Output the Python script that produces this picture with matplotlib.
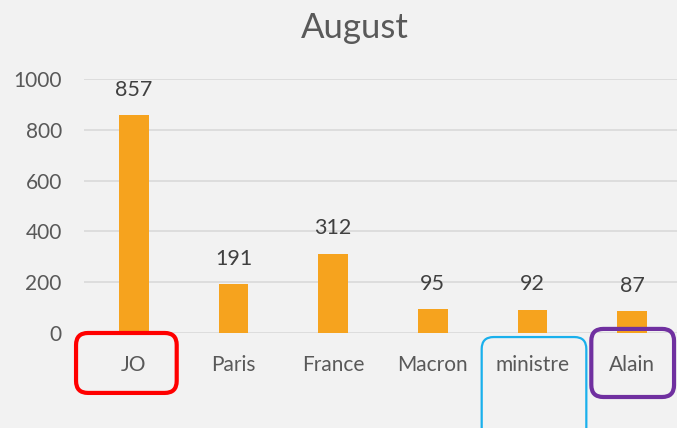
import matplotlib.pyplot as plt
import matplotlib.transforms as mtransforms
from matplotlib.patches import FancyBboxPatch

categories = ["JO", "Paris", "France", "Macron", "ministre", "Alain"]
counts = [857, 191, 312, 95, 92, 87]
yticks = [0, 200, 400, 600, 800, 1000]

bg = "#f2f2f2"
bar_color = "#f6a31e"

plt.rcParams["font.family"] = ["Lato", "DejaVu Sans"]

fig = plt.figure(figsize=(6.77, 4.28), dpi=100, facecolor=bg)
ax = fig.add_axes([0.1241, 0.2220, 0.8833, 0.5935], facecolor=bg)

x = range(len(categories))
bars = ax.bar(x, counts, width=0.3, color=bar_color, zorder=3)

# data labels above bars
for xi, v in zip(x, counts):
    ax.annotate(str(v), (xi, v), xytext=(0, 11), textcoords="offset points",
                ha="center", va="bottom", fontsize=15.5, color="#404040")

ax.set_xlim(-0.5, 5.5)
ax.set_ylim(0, 1000)
ax.set_yticks(yticks)
ax.set_xticks(list(x))
ax.set_xticklabels(categories)
ax.tick_params(axis="both", length=0, labelsize=15, colors="#595959")
ax.tick_params(axis="x", pad=16)
ax.tick_params(axis="y", pad=16)
ax.grid(axis="y", color="#d9d9d9", linewidth=1.2, zorder=0)
for s in ax.spines.values():
    s.set_visible(False)

fig.text(0.524, 0.935, "August", ha="center", va="center",
         fontsize=25, color="#595959")

# highlight boxes around some category labels
trans = mtransforms.blended_transform_factory(ax.transData, ax.transAxes)
boxes = [
    (-0.58, -0.236, 1.01, 0.236, "#ff0000", 3.0),
    (3.49, -0.42, 1.05, 0.404, "#1ab0ec", 1.6),
    (4.59, -0.252, 0.83, 0.268, "#7030a0", 3.0),
]
for bx, by, bw, bh, col, lw in boxes:
    p = FancyBboxPatch((bx, by), bw, bh,
                       boxstyle="round,pad=0,rounding_size=0.12",
                       mutation_aspect=99.6 / 254,
                       transform=trans, clip_on=False,
                       facecolor="none", edgecolor=col, linewidth=lw, zorder=5)
    ax.add_patch(p)

plt.savefig("out.png", dpi=100, facecolor=bg)
